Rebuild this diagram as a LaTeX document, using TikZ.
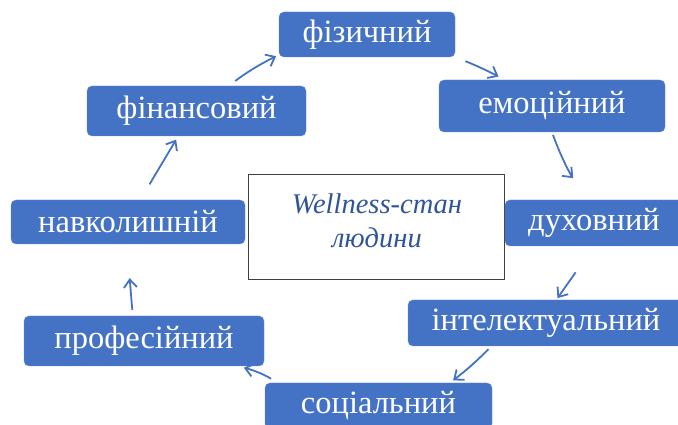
\documentclass[tikz,border=0pt]{standalone}
\usepackage{fontspec}
\setmainfont{Liberation Serif}
\usetikzlibrary{arrows.meta}
\definecolor{boxblue}{HTML}{4472C4}
\definecolor{textblue}{HTML}{2F5597}

\begin{document}
\begin{tikzpicture}[
    x=1pt, y=1pt,
    blockbox/.style={rectangle, rounded corners=5pt, fill=boxblue, draw=boxblue!80!white,
      text=white, font=\fontsize{32.5}{36}\selectfont, inner sep=0pt},
    centrebox/.style={rectangle, draw=black!75, line width=0.9pt, fill=white,
      minimum width=256pt, minimum height=105pt},
    arr/.style={-{Straight Barb[length=8pt, width=13pt]}, draw=boxblue, line width=1.8pt},
  ]
  \useasboundingbox (0,0) rectangle (678,425);
  \clip (0,0) rectangle (678,425);
  % wellness circle
  \node[centrebox] (wstate) at (376,198.5) {};
  \node[text=textblue, font=\itshape\fontsize{28.5}{34}\selectfont, align=center]
    (wtext) at (377,204) {Wellness-стан\\людини};

  \node[blockbox, minimum width=176pt, minimum height=45pt] (fiz) at (367,390.5) {фізичний};
  \node[blockbox, minimum width=226pt, minimum height=52pt] (emo) at (552,319) {емоційний};
  \node[blockbox, minimum width=178pt, minimum height=46pt] (dux) at (594,202) {духовний};
  \node[blockbox, minimum width=276pt, minimum height=46pt] (intel) at (546,102) {інтелектуальний};
  \node[blockbox, minimum width=227pt, minimum height=46pt] (soc) at (378.5,19) {соціальний};
  \node[blockbox, minimum width=240pt, minimum height=50pt] (prof) at (144,84) {професійний};
  \node[blockbox, minimum width=234pt, minimum height=44pt] (nav) at (128,203) {навколишній};
  \node[blockbox, minimum width=219pt, minimum height=50pt] (fin) at (196.5,314) {фінансовий};

  \draw[arr, shorten <=8pt, shorten >=3pt] (fin.38) to [bend left=5] (fiz.193);
  \draw[arr, shorten <=11pt, shorten >=7pt] (fiz.south east) to [bend left=3] (emo.151);
  \draw[arr, shorten <=3pt, shorten >=30pt] (emo.south) to [bend right=12] (dux.north);
  \draw[arr, shorten <=32pt, shorten >=2pt] (dux.south) -- (intel.66);
  \draw[arr, shorten <=4pt, shorten >=4pt] (intel.203) to [bend left=4] (soc.18);
  \draw[arr, shorten <=8pt, shorten >=6pt] (soc.167) to [bend right=8] (prof.345);
  \draw[arr, shorten <=6pt, shorten >=34pt] (prof.114) -- (nav.267);
  \draw[arr, shorten <=18pt, shorten >=4pt] (nav.61) -- (fin.234);
\end{tikzpicture}
\end{document}
